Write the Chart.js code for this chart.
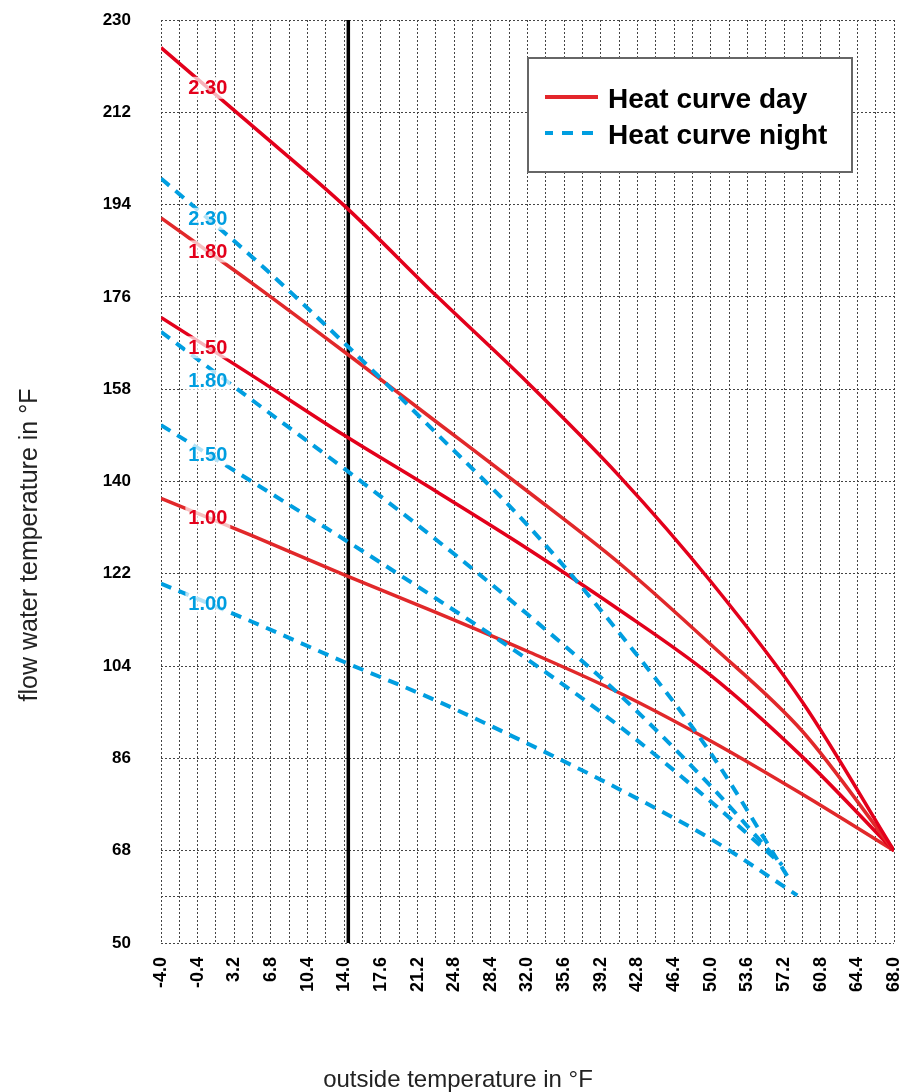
<!DOCTYPE html>
<html>
<head>
<meta charset="utf-8">
<script src="https://cdn.jsdelivr.net/npm/chart.js@4.4.1/dist/chart.umd.min.js"></script>
<style>
  html, body { margin: 0; padding: 0; background: #fff; }
  #wrap { width: 908px; height: 1092px; }
</style>
</head>
<body>
<div id="wrap"><canvas id="myChart" width="908" height="1092"></canvas></div>
<script>
// values (°F)
const dayTemps = [-4, 5, 14, 23, 32, 41, 50, 59, 68];
const dayFlow230 = [224.6, 209.3, 193.8, 176.3, 159.3, 141.1, 120.5, 97.0, 68];
const dayFlow180 = [191.4, 178.6, 165.3, 151.7, 138.1, 124.1, 108.2, 91.3, 68];
const dayFlow150 = [172.0, 160.6, 149.0, 138.1, 126.9, 115.0, 102.2, 86.3, 68];
const dayFlow100 = [136.7, 129.4, 121.8, 114.5, 106.9, 98.8, 89.4, 79.0, 68];

const nightTemps = [-4, 5, 14, 23, 32, 41, 50];
const nightFlow230 = [199.1, 183.7, 167.0, 149.5, 131.5, 110.5, 87.0];
const nightFlow180 = [169.2, 155.8, 142.5, 128.7, 114.1, 98.5, 80.6];
const nightFlow150 = [151.0, 139.9, 128.7, 117.2, 105.3, 92.3, 77.6];
const nightFlow100 = [120.1, 112.6, 104.8, 97.3, 88.9, 80.0, 70.3];
// where each night curve stops (2.30, 1.80, 1.50, 1.00)
const nightEndTemps = [57.6, 57.0, 56.4, 58.5];
const nightEndFlows = [62.8, 65.2, 66.3, 59.3];

const slopes = ['2.30', '1.80', '1.50', '1.00'];
const designTemp = 14.4;

const xTickLabels = ['-4.0', '-0.4', '3.2', '6.8', '10.4', '14.0', '17.6', '21.2', '24.8', '28.4', '32.0',
  '35.6', '39.2', '42.8', '46.4', '50.0', '53.6', '57.2', '60.8', '64.4', '68.0'];
const yTickLabels = [50, 68, 86, 104, 122, 140, 158, 176, 194, 212, 230];
const yExtraGrid = [59];

const labelTemp = 0.6;
const FONT = "'Liberation Sans', Arial, sans-serif";
const RED = '#e3001b';
const RED2 = '#e1282a';
const BLUE = '#009ee0';

function points(xs, ys) {
    return ys.map((v, i) => ({ x: xs[i], y: v }));
}

function nightPoints(ys, k) {
    let pts = points(nightTemps, ys);
    pts.push({ x: nightEndTemps[k], y: nightEndFlows[k] });
    return pts;
}

function valueAt(data, t) {
    for (let i = 0; i < data.length - 1; i++) {
        if (t >= data[i].x && t <= data[i + 1].x) {
            let f = (t - data[i].x) / (data[i + 1].x - data[i].x);
            return data[i].y + f * (data[i + 1].y - data[i].y);
        }
    }
    return data[0].y;
}

const nightSets = [nightFlow230, nightFlow180, nightFlow150, nightFlow100].map((ys, k) => ({
    label: 'Heat curve night',
    curveLabel: slopes[k],
    labelColor: BLUE,
    labelShift: k === 1 ? 14 : 0,
    data: nightPoints(ys, k),
    borderColor: BLUE,
    borderWidth: 4,
    borderDash: [11, 8],
    cubicInterpolationMode: 'monotone'
}));

const dayColors = [RED, RED2, RED, RED2];
const daySets = [dayFlow230, dayFlow180, dayFlow150, dayFlow100].map((ys, k) => ({
    label: 'Heat curve day',
    curveLabel: slopes[k],
    labelColor: RED,
    data: points(dayTemps, ys),
    borderColor: dayColors[k],
    borderWidth: 3.5,
    cubicInterpolationMode: 'monotone'
}));

const designLine = {
    label: 'design',
    data: [{ x: designTemp, y: 50 }, { x: designTemp, y: 230 }],
    borderColor: '#000',
    borderWidth: 3.5,
    tension: 0
};

const overlay = {
    id: 'overlay',
    afterDatasetsDraw(chart) {
        const { ctx, scales: { x, y } } = chart;
        chart.data.datasets.forEach(ds => {
            if (!ds.curveLabel) return;
            let px = x.getPixelForValue(labelTemp);
            let py = y.getPixelForValue(valueAt(ds.data, labelTemp)) + (ds.labelShift || 0);
            ctx.save();
            ctx.font = 'bold 20px ' + FONT;
            let w = ctx.measureText(ds.curveLabel).width;
            ctx.fillStyle = 'rgba(255,255,255,0.7)';
            ctx.fillRect(px - w / 2 - 3, py - 11, w + 6, 22);
            ctx.fillStyle = ds.labelColor;
            ctx.textAlign = 'center';
            ctx.textBaseline = 'middle';
            ctx.fillText(ds.curveLabel, px, py + 1);
            ctx.restore();
        });
    },
    afterDraw(chart) {
        const { ctx, chartArea } = chart;
        const day = chart.data.datasets.find(d => d.label === 'Heat curve day');
        const night = chart.data.datasets.find(d => d.label === 'Heat curve night');
        // legend box
        let lx = chartArea.left + 367, ly = chartArea.top + 38, lw = 324, lh = 114;
        ctx.save();
        ctx.fillStyle = '#fff';
        ctx.fillRect(lx, ly, lw, lh);
        ctx.strokeStyle = '#666';
        ctx.lineWidth = 2;
        ctx.strokeRect(lx, ly, lw, lh);
        ctx.lineWidth = 4;
        ctx.strokeStyle = '#e3262b';
        ctx.beginPath(); ctx.moveTo(lx + 17, ly + 39); ctx.lineTo(lx + 70, ly + 39); ctx.stroke();
        ctx.strokeStyle = night.borderColor;
        ctx.setLineDash([11, 9]);
        ctx.lineDashOffset = 3;
        ctx.beginPath(); ctx.moveTo(lx + 17, ly + 75); ctx.lineTo(lx + 70, ly + 75); ctx.stroke();
        ctx.setLineDash([]);
        ctx.fillStyle = '#000';
        ctx.font = 'bold 28px ' + FONT;
        ctx.textBaseline = 'alphabetic';
        ctx.fillText(day.label, lx + 80, ly + 50);
        ctx.fillText(night.label, lx + 80, ly + 86);
        // axis titles
        ctx.fillStyle = '#222';
        ctx.textAlign = 'center';
        ctx.textBaseline = 'middle';
        ctx.font = '24px ' + FONT;
        ctx.fillText('outside temperature in °F', 458, 1080);
        ctx.translate(30, 545);
        ctx.rotate(-Math.PI / 2);
        ctx.font = '25px ' + FONT;
        ctx.fillText('flow water temperature in °F', 0, 0);
        ctx.restore();
    }
};

const xValues = xTickLabels.map(Number);
const gridStyle = { color: '#444', lineWidth: 1, drawTicks: false, tickLength: 0 };

function noEdgePadding(axis) {
    axis.paddingTop = 0;
    axis.paddingBottom = 0;
    axis.paddingLeft = 0;
    axis.paddingRight = 0;
}

new Chart(document.querySelector('#myChart').getContext('2d'), {
    type: 'line',
    data: { datasets: [...nightSets, ...daySets, designLine] },
    options: {
        responsive: false,
        devicePixelRatio: 1,
        animation: false,
        elements: { point: { radius: 0, hoverRadius: 0 } },
        layout: { padding: { left: 60, top: 20, right: 14, bottom: 64 } },
        plugins: { legend: { display: false }, tooltip: { enabled: false }, title: { display: false } },
        scales: {
            x: {
                type: 'linear',
                min: -4,
                max: 68,
                afterBuildTicks: axis => {
                    let t = [];
                    xValues.forEach((v, i) => {
                        t.push({ value: v });
                        if (i < xValues.length - 1) t.push({ value: (v + xValues[i + 1]) / 2 });
                    });
                    axis.ticks = t;
                },
                afterFit: axis => { axis.height = 85; noEdgePadding(axis); },
                grid: gridStyle,
                border: { display: false, dash: [2, 2] },
                ticks: {
                    autoSkip: false,
                    minRotation: 90,
                    maxRotation: 90,
                    padding: 14,
                    color: '#000',
                    font: { family: FONT, size: 18, weight: 'bold' },
                    callback: value => {
                        let i = xValues.findIndex(v => Math.abs(v - value) < 1e-6);
                        return i >= 0 ? xTickLabels[i] : '';
                    }
                }
            },
            y: {
                type: 'linear',
                min: 50,
                max: 230,
                afterBuildTicks: axis => {
                    axis.ticks = [...yTickLabels, ...yExtraGrid].sort((a, b) => a - b).map(v => ({ value: v }));
                },
                afterFit: axis => { axis.width = 101; noEdgePadding(axis); },
                grid: gridStyle,
                border: { display: false, dash: [2, 2] },
                ticks: {
                    padding: 30,
                    color: '#000',
                    font: { family: FONT, size: 17, weight: 'bold' },
                    callback: value => yTickLabels.includes(value) ? String(value) : ''
                }
            }
        }
    },
    plugins: [overlay]
});
</script>
</body>
</html>
